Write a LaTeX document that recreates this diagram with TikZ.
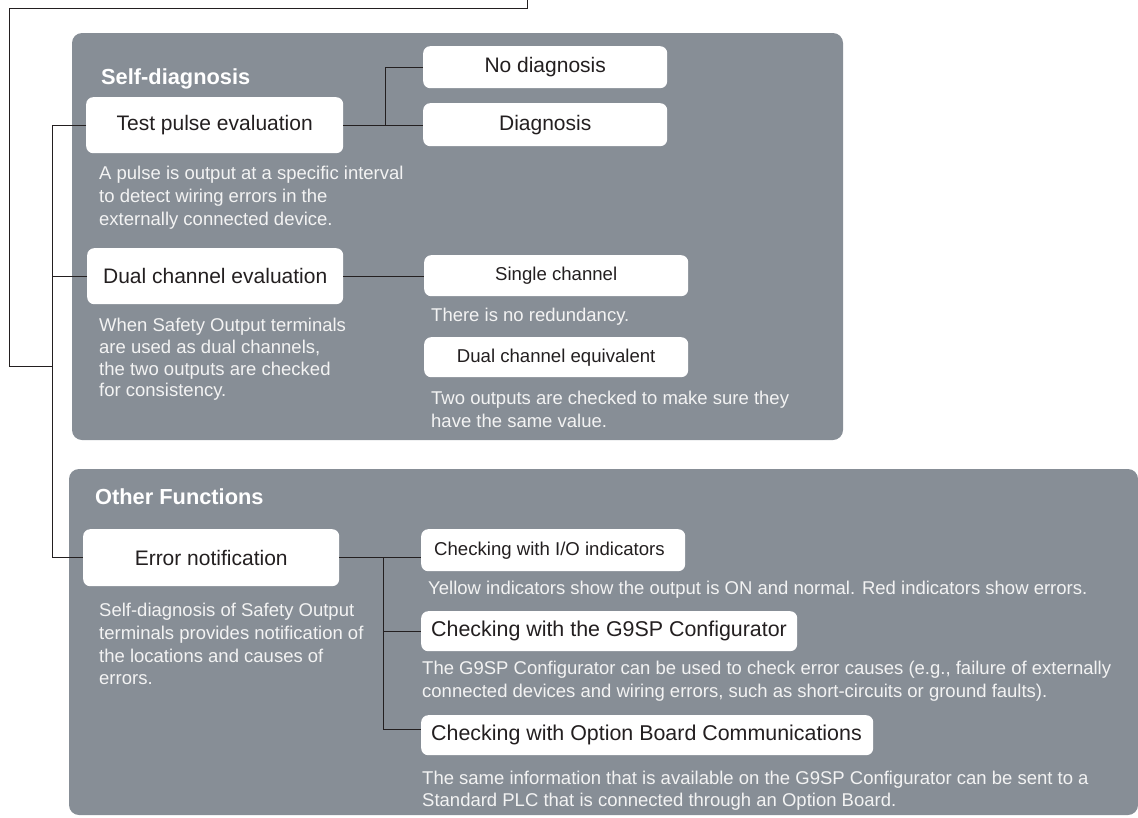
\documentclass[tikz,border=0pt]{standalone}
\usepackage{fontspec}
\setmainfont{Liberation Sans}
\definecolor{panel}{HTML}{878E96}
\definecolor{desc}{HTML}{F3F3F3}
\definecolor{ink}{HTML}{231F20}
\tikzset{
  panelbox/.style={fill=panel, rounded corners=10pt},
  whitebox/.style={fill=white, rounded corners=7pt, inner sep=0pt, anchor=north west, text=ink},
  bigbox/.style={whitebox, font=\fontsize{21}{25}\selectfont},
  smallbox/.style={whitebox, font=\fontsize{18.6}{22}\selectfont},
  desctext/.style={anchor=north west, inner sep=0pt, align=left, text=desc, font=\fontsize{18.5}{22.5}\selectfont},
  headtext/.style={anchor=base west, inner sep=0pt, text=white, font=\fontsize{21.8}{26}\selectfont\bfseries},
  link/.style={draw=ink, line width=1pt},
}
\begin{document}
\begin{tikzpicture}[x=1pt,y=-1pt]
\useasboundingbox (0,0) rectangle (1138,817);

% panels
\path[panelbox] (72,33) rectangle (843,440);
\path[panelbox] (69,469) rectangle (1138,815);

% headings
\node[headtext] (h1) at (101,84) {Self-diagnosis};
\node[headtext] (h2) at (95,504) {Other Functions};

% self-diagnosis boxes
\node[bigbox, minimum width=257pt, minimum height=56pt] (tp) at (86,97) {Test pulse evaluation};
\node[bigbox, minimum width=244pt, minimum height=42pt] (nodiag) at (423,46) {No diagnosis};
\node[bigbox, minimum width=244pt, minimum height=43pt] (diag) at (423,103) {Diagnosis};
\node[bigbox, minimum width=256pt, minimum height=56pt] (dc) at (87,248) {Dual channel evaluation};
\node[smallbox, minimum width=264pt, minimum height=41pt] (sc) at (424,255) {Single channel};
\node[smallbox, minimum width=264pt, minimum height=40pt] (dce) at (424,337) {Dual channel equivalent};

% other functions boxes
\node[whitebox, font=\fontsize{18.6}{22}\selectfont, inner xsep=13pt, minimum height=42pt] (io) at (421,529) {\makebox[238pt][l]{Checking with I/O indicators}};
\node[whitebox, font=\fontsize{21.4}{25}\selectfont, inner xsep=10pt, minimum height=40pt] (g9) at (421,611) {\makebox[356pt][l]{Checking with the G9SP Configurator}};
\node[whitebox, font=\fontsize{21.4}{25}\selectfont, inner xsep=10pt, minimum height=40pt] (opt) at (421,715) {\makebox[432pt][l]{Checking with Option Board Communications}};
\node[bigbox, minimum width=256pt, minimum height=57pt] (err) at (83,529) {Error notification};

% descriptions
\node[desctext, font=\fontsize{18.5}{23}\selectfont] (d1) at (99,166) {A pulse is output at a specific interval\\to detect wiring errors in the\\externally connected device.};
\node[desctext, font=\fontsize{18.5}{21.7}\selectfont] (d2) at (99,318) {When Safety Output terminals\\are used as dual channels,\\the two outputs are checked\\for consistency.};
\node[desctext] (d3) at (431,308) {There is no redundancy.};
\node[desctext] (d4) at (431,391) {Two outputs are checked to make sure they\\have the same value.};
\node[desctext, font=\fontsize{18.5}{22.7}\selectfont] (d5) at (99,603) {Self-diagnosis of Safety Output\\terminals provides notification of\\the locations and causes of\\errors.};
\node[desctext] (d6) at (428,581) {Yellow indicators show the output is ON and normal. Red indicators show errors.};
\node[desctext] (d7) at (422,661) {The G9SP Configurator can be used to check error causes (e.g., failure of externally\\connected devices and wiring errors, such as short-circuits or ground faults).};
\node[desctext, font=\fontsize{18.5}{22}\selectfont] (d8) at (422,771) {The same information that is available on the G9SP Configurator can be sent to a\\Standard PLC that is connected through an Option Board.};

% connector coordinates
\coordinate (topend) at (527,0);
\coordinate (topcorner) at (9,8);
\coordinate (outc) at (9,366);
\coordinate (trunkL) at (52,0);
\coordinate (tpj) at (385,0);
\coordinate (erj) at (383,0);
\coordinate (optj) at (0,729);

% connectors
\draw[link] (topend) |- (topcorner) -- (outc) -- (trunkL |- outc);
\draw[link] (tp.west) -- (trunkL |- tp.west) -- (trunkL |- err.west) -- (err.west);
\draw[link] (dc.west) -- (trunkL |- dc.west);
\draw[link] (tp.east) -- (diag.west |- tp.east);
\draw[link] (tpj |- tp.east) |- (nodiag.west);
\draw[link] (dc.east) -- (sc.west |- dc.east);
\draw[link] (err.east) -- (io.west |- err.east);
\draw[link] (erj |- err.east) -- (erj |- optj) -- (opt.west |- optj);
\draw[link] (erj |- g9.west) -- (g9.west);
\end{tikzpicture}
\end{document}
